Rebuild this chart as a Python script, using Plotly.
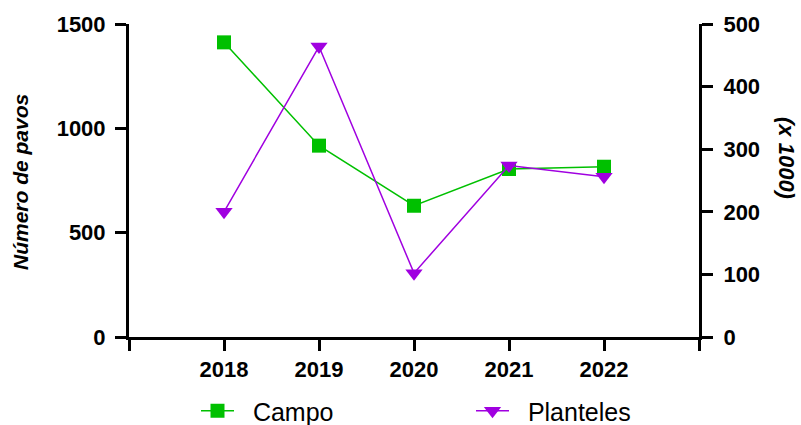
import plotly.graph_objects as go

years = [2018, 2019, 2020, 2021, 2022]
campo = [1412, 917, 629, 805, 816]
planteles = [200, 464, 102, 274, 256]
x_ticks = [2017, 2018, 2019, 2020, 2021, 2022, 2023]
x_ticktext = ["", "2018", "2019", "2020", "2021", "2022", ""]
left_ticks = [0, 500, 1000, 1500]
right_ticks = [0, 100, 200, 300, 400, 500]

GREEN = "#00C000"
PURPLE = "#A000E0"
FONT = "Liberation Sans, Arial, sans-serif"

W, H = 801, 425
PL, PR, PT, PB = 129, 699, 24, 337  # plot area in window pixels


def px(x):
    return (x - PL) / (PR - PL)


def py(y):
    return (PB - y) / (PB - PT)


fig = go.Figure()
fig.add_trace(go.Scatter(
    x=years, y=campo, name="\u00a0\u00a0Campo", mode="lines+markers",
    line=dict(color=GREEN, width=1.5),
    marker=dict(symbol="square", size=14, color=GREEN),
    yaxis="y", legend="legend"))
fig.add_trace(go.Scatter(
    x=years, y=planteles, name="\u00a0\u00a0Planteles", mode="lines+markers",
    line=dict(color=PURPLE, width=1.5),
    marker=dict(symbol="triangle-down", size=15, color=PURPLE),
    yaxis="y2", legend="legend2"))

axis_common = dict(showline=True, linecolor="black", linewidth=3, ticks="outside",
                   ticklen=11, tickwidth=3, tickcolor="black", showgrid=False,
                   zeroline=False, automargin=False,
                   tickfont=dict(family=FONT, size=22, color="black", weight="bold"))

legend_font = dict(family=FONT, size=25, color="black")

fig.update_layout(
    width=W, height=H,
    margin=dict(l=PL, r=W - PR, t=PT, b=H - PB, autoexpand=False),
    plot_bgcolor="white", paper_bgcolor="white",
    font=dict(family=FONT, color="black"),
    xaxis=dict(range=[2017, 2023], tickvals=x_ticks, ticktext=x_ticktext,
               ticklabelstandoff=0, **axis_common),
    yaxis=dict(range=[0, 1500], tickvals=left_ticks, ticklabelstandoff=5, **axis_common),
    yaxis2=dict(range=[0, 500], tickvals=right_ticks, overlaying="y", side="right",
                ticklabelstandoff=6, **axis_common),
    legend=dict(orientation="h", x=px(196), y=py(411),
                xanchor="left", yanchor="middle", itemwidth=33,
                font=legend_font, bgcolor="rgba(0,0,0,0)"),
    legend2=dict(orientation="h", x=px(471), y=py(411),
                 xanchor="left", yanchor="middle", itemwidth=33,
                 font=legend_font, bgcolor="rgba(0,0,0,0)"),
    showlegend=True,
)

fig.add_annotation(text="<b><i>Número de pavos</i></b>", xref="paper", yref="paper",
                   x=px(20), y=py(182), xanchor="center", yanchor="middle",
                   textangle=-90, showarrow=False,
                   font=dict(family=FONT, size=21, color="black"))
fig.add_annotation(text="<b><i>(x 1000)</i></b>", xref="paper", yref="paper",
                   x=px(787), y=py(158), xanchor="center", yanchor="middle",
                   textangle=90, showarrow=False,
                   font=dict(family=FONT, size=22, color="black"))

fig.write_html("out.html", config={"displayModeBar": False},
               post_script="document.body.style.margin='0';document.body.style.overflow='hidden';")
